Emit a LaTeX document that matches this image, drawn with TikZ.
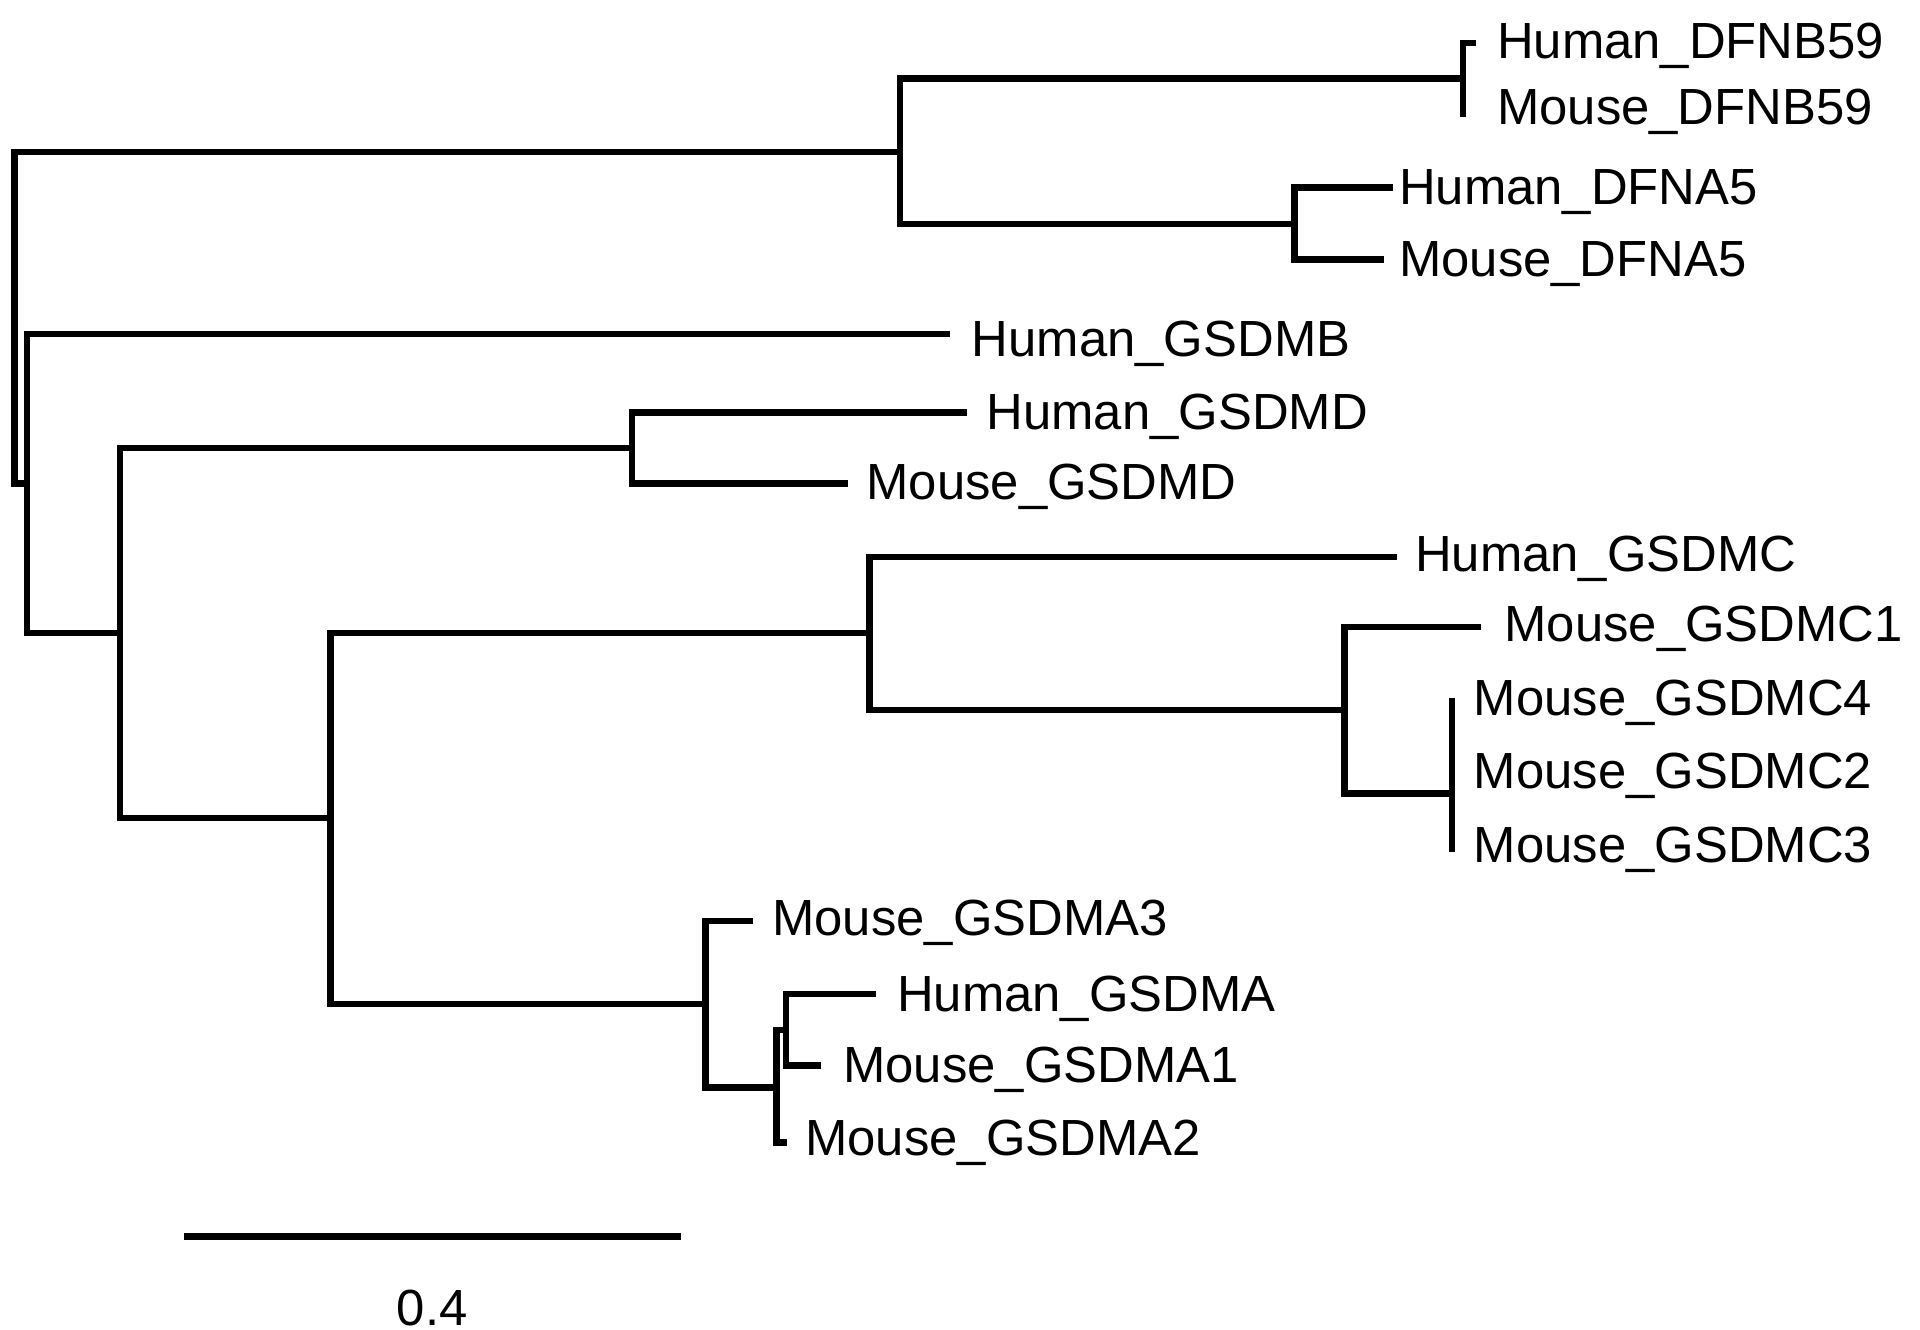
\documentclass[tikz,border=0pt]{standalone}
\usepackage{fontspec}
\setmainfont{Liberation Sans}

\begin{document}
\begin{tikzpicture}[x=0.01cm,y=-0.01cm,
branch/.style={line width=1.5pt,line join=miter,line cap=rect},
leaf/.style={anchor=base west,inner sep=0pt,font=\fontsize{11.8}{13}\selectfont}]
\useasboundingbox (0,0) rectangle (1568,1086);

% inner nodes of the tree
\coordinate (root) at (12,259);
\coordinate (dfn) at (735,124);
\coordinate (dfnb) at (1195,64);
\coordinate (dfna) at (1057,183);
\coordinate (nb) at (22,395);
\coordinate (nd) at (98,517);
\coordinate (gd) at (516,366);
\coordinate (nca) at (270,668);
\coordinate (gc) at (710,517);
\coordinate (mc) at (1098,580);
\coordinate (mcx) at (1186,648);
\coordinate (ga) at (576,820);
\coordinate (gax) at (634,888);
\coordinate (gay) at (642,841);

% tips
\coordinate (tHDFNB59) at (1203,35);
\coordinate (tMDFNB59) at (1195,93);
\coordinate (tHDFNA5) at (1135,153);
\coordinate (tMDFNA5) at (1128,212);
\coordinate (tHGSDMB) at (773,273);
\coordinate (tHGSDMD) at (787,337);
\coordinate (tMGSDMD) at (690,395);
\coordinate (tHGSDMC) at (1138,455);
\coordinate (tMGSDMC1) at (1207,512);
\coordinate (tMGSDMC4) at (1186,573);
\coordinate (tMGSDMC2) at (1186,633);
\coordinate (tMGSDMC3) at (1186,693);
\coordinate (tMGSDMA3) at (612,752);
\coordinate (tHGSDMA) at (713,812);
\coordinate (tMGSDMA1) at (668,870);
\coordinate (tMGSDMA2) at (640,933);

% labels
\node[leaf] (HDFNB59) at (1222,48) {Human\_DFNB59};
\node[leaf] (MDFNB59) at (1222,102) {Mouse\_DFNB59};
\node[leaf] (HDFNA5) at (1142,167) {Human\_DFNA5};
\node[leaf] (MDFNA5) at (1142,226) {Mouse\_DFNA5};
\node[leaf] (HGSDMB) at (793,291) {Human\_GSDMB};
\node[leaf] (HGSDMD) at (805,351) {Human\_GSDMD};
\node[leaf] (MGSDMD) at (707,408) {Mouse\_GSDMD};
\node[leaf] (HGSDMC) at (1155,467) {Human\_GSDMC};
\node[leaf] (MGSDMC1) at (1228,524) {Mouse\_GSDMC1};
\node[leaf] (MGSDMC4) at (1203,584) {Mouse\_GSDMC4};
\node[leaf] (MGSDMC2) at (1203,644) {Mouse\_GSDMC2};
\node[leaf] (MGSDMC3) at (1203,704) {Mouse\_GSDMC3};
\node[leaf] (MGSDMA3) at (630,764) {Mouse\_GSDMA3};
\node[leaf] (HGSDMA) at (732,826) {Human\_GSDMA};
\node[leaf] (MGSDMA1) at (688,884) {Mouse\_GSDMA1};
\node[leaf] (MGSDMA2) at (657,944) {Mouse\_GSDMA2};

% branches
\draw[branch] (dfn) -| (root) |- (nb);
\draw[branch] (dfnb) -| (dfn) |- (dfna);
\draw[branch] (tHDFNB59) -| (dfnb) |- (tMDFNB59);
\draw[branch] (tHDFNA5) -| (dfna) |- (tMDFNA5);
\draw[branch] (tHGSDMB) -| (nb) |- (nd);
\draw[branch] (gd) -| (nd) |- (nca);
\draw[branch] (tHGSDMD) -| (gd) |- (tMGSDMD);
\draw[branch] (gc) -| (nca) |- (ga);
\draw[branch] (tHGSDMC) -| (gc) |- (mc);
\draw[branch] (tMGSDMC1) -| (mc) |- (mcx);
\draw[branch] (tMGSDMC4) -- (tMGSDMC3);
\draw[branch] (tMGSDMA3) -| (ga) |- (gax);
\draw[branch] (gay) -| (gax) |- (tMGSDMA2);
\draw[branch] (tHGSDMA) -| (gay) |- (tMGSDMA1);

% scale bar
\coordinate (sbl) at (150,1010);
\coordinate (sbr) at (556,1010);
\draw[branch,line cap=butt] (sbl) -- (sbr);
\node[font=\fontsize{11.8}{13}\selectfont,inner sep=0pt] (sblab) at (353,1068) {0.4};
\end{tikzpicture}
\end{document}
